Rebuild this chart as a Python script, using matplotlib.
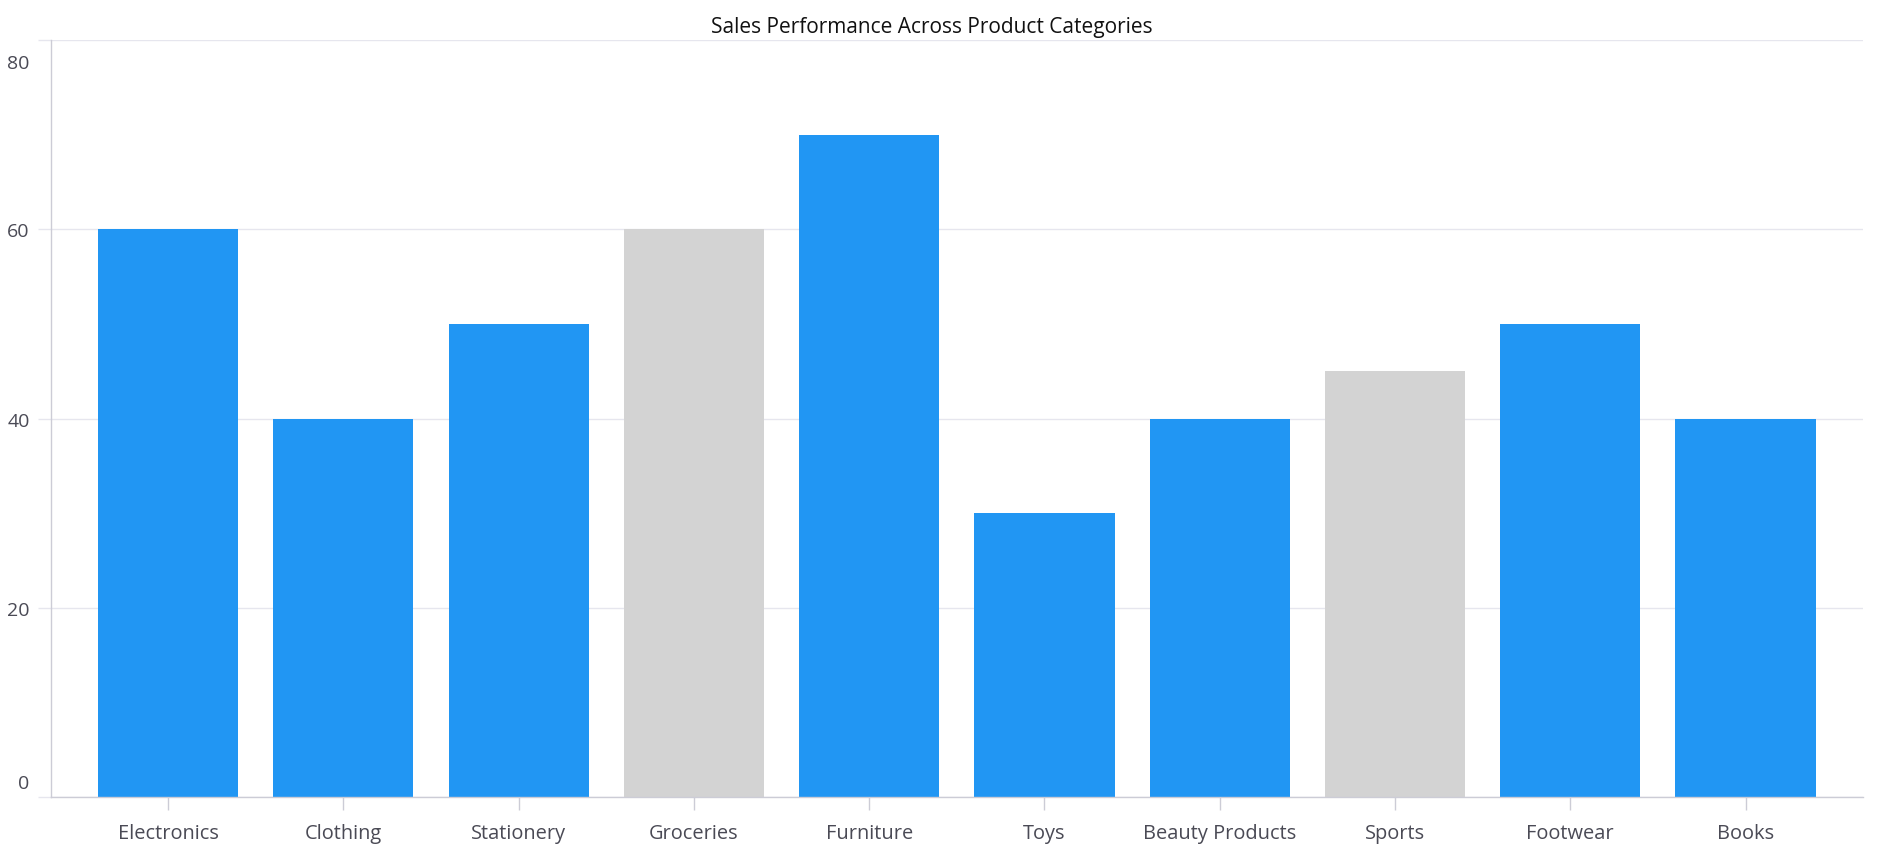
import numpy as np
import matplotlib
matplotlib.use("Agg")
import matplotlib.pyplot as plt
from matplotlib.transforms import ScaledTranslation

# Sales per category (grey bars are highlighted as different)
CATEGORIES = ["Electronics", "Clothing", "Stationery", "Groceries", "Furniture",
              "Toys", "Beauty Products", "Sports", "Footwear", "Books"]
SALES = [60, 40, 50, 60, 70, 30, 40, 45, 50, 40]
GREY_CATEGORIES = ["Groceries", "Sports"]
Y_TICKS = [0, 20, 40, 60, 80]

BLUE = "#2196F3"
GREY = "#D3D3D3"
GRID = "#E6E6EE"
AXIS = "#CCCCD6"
LABEL = "#4A4A55"

plt.rcParams["font.family"] = ["Open Sans", "DejaVu Sans"]

fig = plt.figure(figsize=(18.78, 8.62), dpi=100)
ax = fig.add_axes([0.02716, 0.0742, 0.992 - 0.02716, 0.9524 - 0.0742])

x = np.arange(len(CATEGORIES))
colors = [GREY if c in GREY_CATEGORIES else BLUE for c in CATEGORIES]
ax.bar(x, SALES, width=0.8, color=colors, zorder=2)

ax.set_xlim(-0.668, len(CATEGORIES) - 1 + 0.67)
ax.set_ylim(0, 80)
ax.set_xticks(x)
ax.set_xticklabels(CATEGORIES)
ax.set_yticks(Y_TICKS)

ax.grid(axis="y", color=GRID, linewidth=1, zorder=0)
for side in ["top", "right"]:
    ax.spines[side].set_visible(False)
for side in ["left", "bottom"]:
    ax.spines[side].set_color(AXIS)
    ax.spines[side].set_linewidth(1)

ax.tick_params(axis="y", length=9.4, width=1, color=GRID, pad=6,
               labelsize=14, labelcolor=LABEL)
ax.tick_params(axis="x", length=9.4, width=1, color=AXIS, pad=9,
               labelsize=14.4, labelcolor=LABEL)

# edge labels are pushed inside the plot area
ylabels = ax.get_yticklabels()
ylabels[-1].set_transform(ylabels[-1].get_transform() +
                          ScaledTranslation(0, -0.21, fig.dpi_scale_trans))
ylabels[0].set_transform(ylabels[0].get_transform() +
                         ScaledTranslation(0, 0.16, fig.dpi_scale_trans))

fig.text(0.496, 0.968, "Sales Performance Across Product Categories",
         ha="center", va="center", fontsize=15, color="#111111")

fig.savefig("out.png", dpi=100, facecolor="white")
